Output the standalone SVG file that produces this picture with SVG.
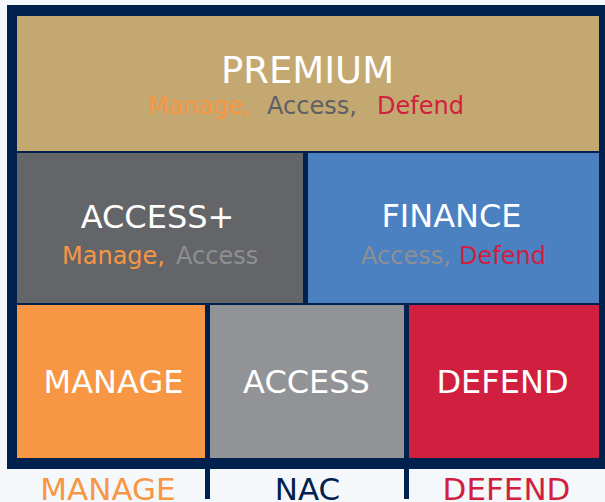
<svg xmlns="http://www.w3.org/2000/svg" width="605" height="502" viewBox="0 0 605 502">
<style>
text{font-family:"DejaVu Sans","Liberation Sans",sans-serif}
.t{fill:#ffffff;font-size:32px;text-anchor:middle}
.s{font-size:24px}
.b{font-size:31px;text-anchor:middle}
.or{fill:#f79643}
.gd{fill:#5f6066}
.gl{fill:#8e8f93}
.rd{fill:#d01f3f}
.nv{fill:#00214e}
</style>
<rect width="605" height="502" fill="#f5f8fa"/>
<rect x="7" y="5" width="598" height="464" fill="#00214e"/>
<g id="premium">
<rect x="17" y="16" width="582" height="135" fill="#c4a871"/>
<text x="307.5" y="83" class="t" style="font-size:37px">PREMIUM</text>
<text y="114" class="s"><tspan x="148" class="or">Manage,</tspan><tspan x="267" class="gd">Access,</tspan><tspan x="377" class="rd">Defend</tspan></text>
</g>
<g id="accessplus">
<rect x="17" y="153" width="286" height="150" fill="#646569"/>
<text x="157.5" y="228" class="t">ACCESS+</text>
<text y="264" class="s"><tspan x="62" class="or">Manage,</tspan><tspan x="176" class="gl">Access</tspan></text>
</g>
<g id="finance">
<rect x="308" y="153" width="291" height="150" fill="#4b80c1"/>
<text x="451.5" y="227" class="t">FINANCE</text>
<text y="264" class="s"><tspan x="361" class="gl">Access,</tspan><tspan x="459" class="rd">Defend</tspan></text>
</g>
<g id="manage">
<rect x="17" y="305" width="188" height="153" fill="#f79643"/>
<text x="113.5" y="393" class="t">MANAGE</text>
</g>
<g id="access">
<rect x="210" y="305" width="194" height="153" fill="#929397"/>
<text x="306.5" y="393" class="t">ACCESS</text>
</g>
<g id="defend">
<rect x="409" y="305" width="190" height="153" fill="#d01f3f"/>
<text x="502.5" y="393" class="t">DEFEND</text>
</g>
<g id="connectors">
<rect x="205" y="469" width="5" height="30" fill="#00214e"/>
<rect x="404" y="469" width="5" height="30" fill="#00214e"/>
</g>
<g id="labels">
<text x="108" y="500" class="b or">MANAGE</text>
<text x="307.5" y="500" class="b nv">NAC</text>
<text x="506.5" y="500" class="b rd">DEFEND</text>
</g>
</svg>
